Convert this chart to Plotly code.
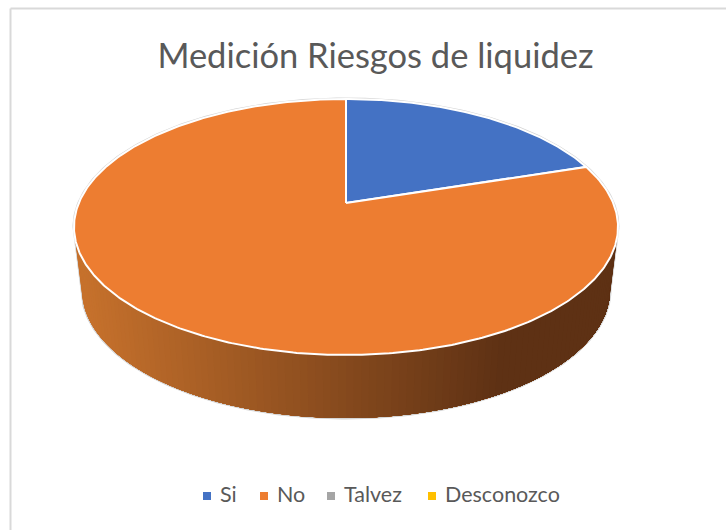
import numpy as np
import plotly.graph_objects as go

categories = ["Si", "No", "Talvez", "Desconozco"]
shares = [20, 80, 0, 0]
colors = ["#4472C4", "#ED7D31", "#A5A5A5", "#FFC000"]
title_text = "Medición Riesgos de liquidez"

# Geometry of the drawn disc (perspective view), in page pixels
CX, TOP_CY, TOP_RX, RY = 346.0, 227.0, 272.0, 128.0
BOT_CY, BOT_RX = 290.0, 264.0
APEX_Y = 203.0
C, H, K = 0.1875, 123.5, 267.2
LEGEND_X = [207, 264, 331, 432]
LEGEND_Y = 497
LEGEND_GAP = 13


def project(theta):
    """Angle clockwise from the top of the disc to a page position."""
    u, v = np.sin(theta), np.cos(theta)
    w = 1 + C * v
    return CX + K * u / w, APEX_Y - H * v / w


def lerp_hex(t):
    a, b = (0xC6, 0x71, 0x2C), (0x5E, 0x31, 0x14)
    return "#%02X%02X%02X" % tuple(round(x + (y - x) * t) for x, y in zip(a, b))


fig = go.Figure()

ts = np.linspace(0, np.pi, 181)
back = np.linspace(0, -np.pi, 181)
sil_x = np.r_[CX + TOP_RX * np.cos(back), CX + BOT_RX * np.cos(ts[::-1]), CX + TOP_RX]
sil_y = np.r_[TOP_CY + RY * np.sin(back), BOT_CY + RY * np.sin(ts[::-1]), TOP_CY]
# silhouette halo
fig.add_trace(go.Scatter(
    x=sil_x, y=sil_y, mode="lines", line=dict(color="#D4D4D4", width=3),
    fill="toself", fillcolor="#FFFFFF", showlegend=False, hoverinfo="skip"))

# side wall, shaded from left to right (belongs to the "No" slice);
# each strip runs to the right end so the next one paints over it with no seam
strips = 110
edges = np.linspace(np.pi, 0, strips + 1)
for a in edges[:-1]:
    q = np.linspace(a, 0, 120)
    mid_x = CX + TOP_RX * np.cos(a)
    shade = lerp_hex(float(np.clip((mid_x - 80) / 420, 0, 1)))
    xs = np.r_[CX + TOP_RX * np.cos(q), CX + BOT_RX * np.cos(q[::-1])]
    ys = np.r_[TOP_CY + RY * np.sin(q), BOT_CY + RY * np.sin(q[::-1])]
    fig.add_trace(go.Scatter(
        x=xs, y=ys, mode="lines", line=dict(color=shade, width=0),
        fill="toself", fillcolor=shade, showlegend=False, hoverinfo="skip"))

# top faces, from the shares
total = sum(shares)
start = 0.0
for name, share, col in zip(categories, shares, colors):
    if share > 0:
        end = start + 2 * np.pi * share / total
        th = np.linspace(start, end, max(3, int(share * 6)))
        px, py = project(th)
        fig.add_trace(go.Scatter(
            x=np.r_[CX, px, CX], y=np.r_[APEX_Y, py, APEX_Y], mode="lines",
            line=dict(color="#FFFFFF", width=2), fill="toself", fillcolor=col,
            name=name, showlegend=False, hoverinfo="name"))
        start = end

# legend row
for name, col, lx in zip(categories, colors, LEGEND_X):
    fig.add_trace(go.Scatter(
        x=[lx], y=[LEGEND_Y - 1], mode="markers",
        marker=dict(symbol="square", size=8, color=col, line=dict(width=0)),
        name=name, showlegend=False, hoverinfo="name"))
    fig.add_trace(go.Scatter(
        x=[lx + LEGEND_GAP], y=[LEGEND_Y], mode="text", text=[name], textposition="middle right",
        textfont=dict(family="Lato", size=21.5, color="#595959"),
        showlegend=False, hoverinfo="skip"))

# chart frame: only the left and top edges fall inside the picture
fig.add_shape(type="line", x0=10.5, y0=8.5, x1=10.5, y1=530, line=dict(color="#D9D9D9", width=2), layer="below")
fig.add_shape(type="line", x0=10.5, y0=8.5, x1=726, y1=8.5, line=dict(color="#D9D9D9", width=2), layer="below")

fig.update_layout(
    width=726, height=530, margin=dict(l=0, r=0, t=0, b=0),
    paper_bgcolor="#FFFFFF", plot_bgcolor="#FFFFFF", showlegend=False,
    title=dict(text=title_text, x=375.5 / 726, xanchor="center", y=1 - 56 / 530, yanchor="middle",
               xref="paper", yref="container", font=dict(family="Lato", size=34.5, color="#595959")),
    xaxis=dict(range=[0, 726], visible=False, fixedrange=True),
    yaxis=dict(range=[530, 0], visible=False, fixedrange=True),
)
fig.write_html("out.html", config={"displayModeBar": False},
               post_script="document.body.style.margin='0';document.body.style.overflow='hidden';")
